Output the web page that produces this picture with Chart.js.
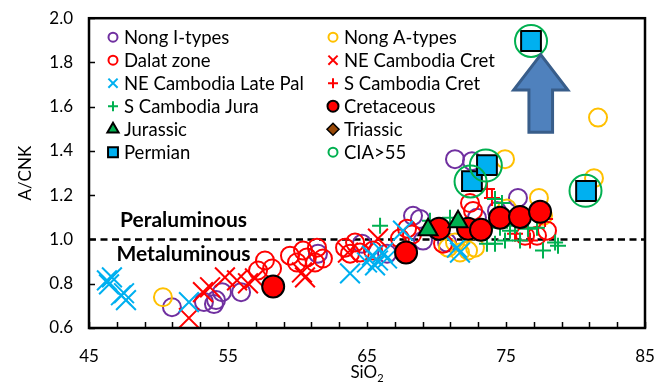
<!DOCTYPE html>
<html><head><meta charset="utf-8">
<script src="https://cdn.jsdelivr.net/npm/chart.js@4.4.1/dist/chart.umd.min.js"></script>
<style>html,body{margin:0;padding:0;background:#fff;}canvas{display:block;}</style>
</head><body>
<canvas id="c" width="670" height="384"></canvas>
<script>
// ---------------- DATA ----------------
const xTicks = [45, 55, 65, 75, 85];
const yTicks = [0.6, 0.8, 1.0, 1.2, 1.4, 1.6, 1.8, 2.0];

const nongI_x = [50.97, 53.27, 53.99, 54.14, 54.57, 55.94, 61.47, 64.64, 66.44, 68.31, 68.81, 69.03, 70.76, 71.33, 72.55, 72.91, 74.35, 75.86];
const nongI_y = [0.694, 0.717, 0.708, 0.726, 0.762, 0.762, 0.936, 0.981, 0.936, 1.107, 1.093, 0.995, 0.986, 1.363, 1.354, 1.098, 1.129, 1.188];

const nongA_x = [50.32, 81.62, 81.33, 74.93, 77.37, 77.66, 75.07, 70.83, 71.33, 71.69, 72.27, 72.77];
const nongA_y = [0.739, 1.551, 1.277, 1.363, 1.188, 1.107, 1.140, 0.963, 0.986, 0.941, 0.950, 0.963];

const dalat_x = [57.16, 57.66, 58.17, 59.46, 59.96, 60.40, 60.68, 61.26, 61.83, 61.40, 63.42, 63.78, 64.14, 64.50, 65.43, 67.37, 67.88, 68.24, 70.47, 72.41, 72.63, 76.37, 77.23, 77.95];
const dalat_y = [0.860, 0.905, 0.869, 0.927, 0.896, 0.950, 0.919, 0.896, 0.914, 0.963, 0.963, 0.936, 0.986, 0.941, 0.950, 1.004, 1.049, 1.022, 0.981, 1.165, 1.129, 1.017, 1.017, 1.040];

const neCambCret_x = [52.19, 53.20, 53.71, 54.78, 55.65, 56.44, 56.94, 60.32, 60.54, 63.63, 65.79];
const neCambCret_y = [0.645, 0.762, 0.784, 0.829, 0.815, 0.802, 0.824, 0.851, 0.829, 0.941, 1.004];

const neCambPal_x = [46.29, 46.65, 46.44, 47.30, 47.66, 47.52, 52.19, 63.78, 65.00, 65.36, 65.79, 66.15, 66.44, 65.58, 67.59, 71.47, 71.69];
const neCambPal_y = [0.815, 0.829, 0.797, 0.748, 0.726, 0.757, 0.717, 0.847, 0.896, 0.927, 0.905, 0.941, 0.914, 0.883, 1.040, 0.963, 0.941];

const sCambCret_x = [73.63, 73.99, 77.81, 75.65, 76.73];
const sCambCret_y = [1.228, 1.188, 1.093, 1.026, 0.995];

const sCambJura_x = [65.94, 69.53, 70.97, 74.21, 74.71, 74.57, 75.29, 75.65, 76.58, 77.23, 73.63, 74.21, 74.93, 76.01, 77.66, 78.53, 78.74];
const sCambJura_y = [1.062, 1.085, 1.098, 1.183, 1.165, 1.053, 1.040, 1.062, 1.049, 1.053, 0.981, 0.981, 0.995, 0.995, 0.950, 0.986, 0.972];

const cretaceous_x = [58.25, 67.81, 70.18, 72.27, 73.20, 74.57, 76.01, 77.45];
const cretaceous_y = [0.788, 0.941, 1.049, 1.049, 1.044, 1.098, 1.102, 1.125];

const jurassic_x = [69.39, 71.55];
const jurassic_y = [1.044, 1.080];

const triassic_x = [];
const triassic_y = [];

const permian_x = [76.80, 72.55, 73.63, 80.76];
const permian_y = [1.897, 1.264, 1.336, 1.219];

const cia_x = [76.80, 72.45, 73.55, 80.72];
const cia_y = [1.897, 1.262, 1.334, 1.220];

// boundary between peraluminous and metaluminous
const boundary_x = [45, 85];
const boundary_y = [1.0, 1.0];

// ---------------- STYLE ----------------
const FONT = "Lato, 'Open Sans', sans-serif";
const NOFILL = 'rgba(0,0,0,0)';
const series = [
  { label: 'Nong I-types',         x: nongI_x,      y: nongI_y,      style: 'circle',   r: 9,  fill: NOFILL,    stroke: '#7030A0', lw: 2,   lr: 4.5 },
  { label: 'Nong A-types',         x: nongA_x,      y: nongA_y,      style: 'circle',   r: 9,  fill: NOFILL,    stroke: '#FFC000', lw: 2,   lr: 4.5 },
  { label: 'Dalat zone',           x: dalat_x,      y: dalat_y,      style: 'circle',   r: 9,  fill: NOFILL,    stroke: '#FF0000', lw: 2,   lr: 4.5 },
  { label: 'NE Cambodia Cret',     x: neCambCret_x, y: neCambCret_y, style: 'crossRot', r: 14, fill: NOFILL,    stroke: '#FF0000', lw: 2,   lr: 6.5 },
  { label: 'NE Cambodia Late Pal', x: neCambPal_x,  y: neCambPal_y,  style: 'crossRot', r: 14, fill: NOFILL,    stroke: '#00B0F0', lw: 2,   lr: 6.5 },
  { label: 'S Cambodia Cret',      x: sCambCret_x,  y: sCambCret_y,  style: 'cross',    r: 8,  fill: NOFILL,    stroke: '#FF0000', lw: 2,   lr: 5 },
  { label: 'S Cambodia Jura',      x: sCambJura_x,  y: sCambJura_y,  style: 'cross',    r: 8,  fill: NOFILL,    stroke: '#00B050', lw: 2,   lr: 5 },
  { label: 'Cretaceous',           x: cretaceous_x, y: cretaceous_y, style: 'circle',   r: 11, fill: '#FF0000', stroke: '#000000', lw: 2,   lr: 5.5 },
  { label: 'Jurassic',             x: jurassic_x,   y: jurassic_y,   style: 'triangle', r: 11, fill: '#00B050', stroke: '#000000', lw: 2,   lr: 6.5 },
  { label: 'Triassic',             x: triassic_x,   y: triassic_y,   style: 'rectRot',  r: 9,  fill: '#984807', stroke: '#000000', lw: 1.5, lr: 6 },
  { label: 'Permian',              x: permian_x,    y: permian_y,    style: 'rect',     r: 14, fill: '#00B0F0', stroke: '#000000', lw: 2,   lr: 7 },
  { label: 'CIA>55',               x: cia_x,        y: cia_y,        style: 'circle',   r: 16, fill: NOFILL,    stroke: '#00B050', lw: 2,   lr: 4.5 }
];

// legend layout: two columns, rows in order
const legendRows = [
  ['Nong I-types', 'Nong A-types'],
  ['Dalat zone', 'NE Cambodia Cret'],
  ['NE Cambodia Late Pal', 'S Cambodia Cret'],
  ['S Cambodia Jura', 'Cretaceous'],
  ['Jurassic', 'Triassic'],
  ['Permian', 'CIA>55']
];

function drawMarker(ctx, style, x, y, r, fill, stroke, lw) {
  ctx.save();
  ctx.lineWidth = lw; ctx.strokeStyle = stroke; ctx.fillStyle = fill;
  ctx.beginPath();
  if (style === 'circle') {
    ctx.arc(x, y, r, 0, Math.PI * 2);
  } else if (style === 'rect') {
    const s = r * Math.SQRT1_2;
    ctx.rect(x - s, y - s, 2 * s, 2 * s);
  } else if (style === 'rectRot') {
    ctx.moveTo(x, y - r); ctx.lineTo(x + r, y); ctx.lineTo(x, y + r); ctx.lineTo(x - r, y); ctx.closePath();
  } else if (style === 'triangle') {
    ctx.moveTo(x, y - r);
    ctx.lineTo(x + r * Math.sin(Math.PI * 2 / 3), y - r * Math.cos(Math.PI * 2 / 3));
    ctx.lineTo(x + r * Math.sin(Math.PI * 4 / 3), y - r * Math.cos(Math.PI * 4 / 3));
    ctx.closePath();
  } else if (style === 'cross') {
    ctx.moveTo(x - r, y); ctx.lineTo(x + r, y); ctx.moveTo(x, y - r); ctx.lineTo(x, y + r);
  } else if (style === 'crossRot') {
    const d = r * Math.SQRT1_2;
    ctx.moveTo(x - d, y - d); ctx.lineTo(x + d, y + d); ctx.moveTo(x + d, y - d); ctx.lineTo(x - d, y + d);
  }
  if (fill !== NOFILL && style !== 'cross' && style !== 'crossRot') ctx.fill();
  ctx.stroke();
  ctx.restore();
}

// arrow annotation (in data units)
const arrow = { cx: 77.5, tipY: 1.835, headY: 1.675, baseY: 1.485, headHalf: 1.95, shaftHalf: 0.85 };

const decor = {
  id: 'decor',
  afterDatasetsDraw(chart) {
    const { ctx, scales: { x, y } } = chart;
    // block arrow
    const cx = x.getPixelForValue(arrow.cx);
    const hw = x.getPixelForValue(arrow.cx + arrow.headHalf) - cx;
    const sw = x.getPixelForValue(arrow.cx + arrow.shaftHalf) - cx;
    const ty = y.getPixelForValue(arrow.tipY), hy = y.getPixelForValue(arrow.headY), by = y.getPixelForValue(arrow.baseY);
    ctx.save();
    ctx.beginPath();
    ctx.moveTo(cx, ty); ctx.lineTo(cx + hw, hy); ctx.lineTo(cx + sw, hy); ctx.lineTo(cx + sw, by);
    ctx.lineTo(cx - sw, by); ctx.lineTo(cx - sw, hy); ctx.lineTo(cx - hw, hy); ctx.closePath();
    ctx.fillStyle = '#4F81BD'; ctx.fill();
    ctx.lineWidth = 3; ctx.strokeStyle = '#385D8A'; ctx.lineJoin = 'miter'; ctx.stroke();
    ctx.restore();

    // region labels
    ctx.save();
    ctx.font = "bold 21px " + FONT;
    ctx.fillStyle = '#000'; ctx.textAlign = 'center'; ctx.textBaseline = 'middle';
    ctx.fillText('Peraluminous', x.getPixelForValue(51.8), y.getPixelForValue(1.085));
    ctx.fillText('Metaluminous', x.getPixelForValue(51.8), y.getPixelForValue(0.935));
    ctx.restore();
  },
  afterDraw(chart) {
    const { ctx, chartArea: a, scales: { x, y } } = chart;
    ctx.save();
    // minor ticks, inside
    ctx.strokeStyle = '#000'; ctx.lineWidth = 1.5;
    ctx.beginPath();
    for (let v = 45; v <= 85; v += 2) {
      const px = Math.round(x.getPixelForValue(v)) + 0.5;
      ctx.moveTo(px, a.bottom); ctx.lineTo(px, a.bottom - 6);
    }
    for (let i = 0; i < yTicks.length; i++) {
      const py = Math.round(y.getPixelForValue(yTicks[i])) + 0.5;
      ctx.moveTo(a.left, py); ctx.lineTo(a.left + 6, py);
    }
    ctx.stroke();
    // border
    ctx.lineWidth = 2.5;
    ctx.strokeRect(a.left, a.top, a.right - a.left, a.bottom - a.top);

    // legend
    ctx.font = "18.5px " + FONT;
    ctx.fillStyle = '#000'; ctx.textBaseline = 'middle'; ctx.textAlign = 'left';
    const colX = [a.left + 24, a.left + 244];
    legendRows.forEach((row, ri) => {
      const yy = a.top + 19 + ri * 23;
      row.forEach((lab, ci) => {
        const s = series.find(d => d.label === lab);
        drawMarker(ctx, s.style, colX[ci], yy, s.lr, s.fill, s.stroke, Math.min(s.lw, 2));
        ctx.fillStyle = '#000';
        ctx.fillText(lab, colX[ci] + 11, yy + 1);
      });
    });

    // axis titles
    ctx.font = "17px " + FONT;
    ctx.textAlign = 'center'; ctx.textBaseline = 'middle';
    ctx.save();
    ctx.translate(26, (a.top + a.bottom) / 2);
    ctx.rotate(-Math.PI / 2);
    ctx.fillText('A/CNK', 0, 0);
    ctx.restore();
    const midX = (a.left + a.right) / 2;
    ctx.textAlign = 'left'; ctx.textBaseline = 'alphabetic';
    ctx.font = "17px " + FONT;
    const w1 = ctx.measureText('SiO').width;
    ctx.font = "11px " + FONT;
    const w2 = ctx.measureText('2').width;
    const sx = midX - (w1 + w2) / 2;
    ctx.font = "17px " + FONT;
    ctx.fillText('SiO', sx, 378);
    ctx.font = "11px " + FONT;
    ctx.fillText('2', sx + w1, 382);
    ctx.restore();
  }
};

const datasets = series.map((s, i) => ({
  type: 'scatter',
  label: s.label,
  data: s.x.map((v, j) => ({ x: v, y: s.y[j] })),
  pointStyle: s.style,
  pointRadius: s.r,
  pointHoverRadius: s.r,
  pointBackgroundColor: s.fill,
  pointBorderColor: s.stroke,
  pointBorderWidth: s.lw,
  order: series.length - i
}));
datasets.push({
  type: 'line',
  label: 'boundary',
  data: boundary_x.map((v, j) => ({ x: v, y: boundary_y[j] })),
  borderColor: '#000', borderWidth: 2.5, borderDash: [7, 4.5],
  pointRadius: 0, showLine: true, fill: false,
  order: 100
});

new Chart(document.getElementById('c'), {
  type: 'scatter',
  data: { datasets },
  options: {
    responsive: false,
    animation: false,
    devicePixelRatio: 1,
    layout: { padding: { top: 16, right: 25, left: 0, bottom: 0 } },
    plugins: { legend: { display: false }, tooltip: { enabled: false } },
    scales: {
      x: {
        type: 'linear', min: 45, max: 85,
        afterBuildTicks(scale) { scale.ticks = xTicks.map(v => ({ value: v })); },
        afterFit(scale) { scale.height = 56; },
        grid: { display: false }, border: { display: false },
        ticks: { color: '#000', font: { family: FONT, size: 17 }, padding: 10 }
      },
      y: {
        type: 'linear', min: 0.6, max: 2.0,
        afterBuildTicks(scale) { scale.ticks = yTicks.map(v => ({ value: v })); },
        afterFit(scale) { scale.width = 89; },
        grid: { display: false }, border: { display: false },
        ticks: { color: '#000', font: { family: FONT, size: 17 }, padding: 8,
          callback: v => Number(v).toFixed(1) }
      }
    }
  },
  plugins: [decor]
});
</script>
</body></html>
